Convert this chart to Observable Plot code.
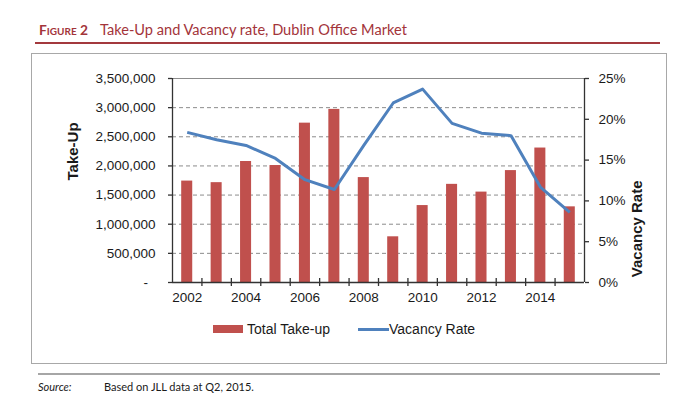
<!DOCTYPE html>
<html>
<head>
<meta charset="utf-8">
<script src="https://cdn.jsdelivr.net/npm/d3@7"></script>
<script src="https://cdn.jsdelivr.net/npm/@observablehq/plot@0.6"></script>
<style>
  body { margin: 0; background: #fff; }
  #page { position: relative; width: 700px; height: 411px; overflow: hidden; }
  .abs { position: absolute; }
  #fig { left: 39px; top: 21px; font-family: Lato, sans-serif; font-size: 14.6px; line-height: 17px; color: #a3343a; white-space: nowrap; }
  #fig .num { font-variant: small-caps; font-weight: 700; font-size: 13.8px; margin-right: 12px; }
  #redline { left: 35px; top: 42px; width: 625px; height: 2px; background: #a3393d; }
  #box { left: 31px; top: 53px; width: 636px; height: 311px; box-sizing: border-box; border: 1.5px solid #a8a8a8; }
  #chart { left: 0; top: 53px; }
  #legend { left: 213px; top: 320px; height: 18px; font-family: "Liberation Sans", Arial, sans-serif; font-size: 14px; color: #1a1a1a; display: flex; align-items: center; white-space: nowrap; }
  .sw-bar { display: inline-block; width: 30px; height: 8px; background: #c0504d; margin-right: 4px; }
  .sw-line { display: inline-block; width: 31px; height: 3px; background: #4f81bd; margin-left: 28px; margin-right: 0px; }
  #grayline { left: 38px; top: 373px; width: 622px; height: 2px; background: #a6a6a6; }
  #source { left: 38px; top: 380px; font-family: Lato, sans-serif; font-size: 11px; line-height: 14px; color: #1a1a1a; white-space: nowrap; }
  #source i { display: inline-block; width: 66px; }
</style>
</head>
<body>
<div id="page">
  <div id="fig" class="abs"><span class="num">Figure 2</span>Take-Up and Vacancy rate, Dublin Office Market</div>
  <div id="redline" class="abs"></div>
  <div id="box" class="abs"></div>
  <div id="chart" class="abs"></div>
  <div id="legend" class="abs"><span class="sw-bar"></span><span>Total Take-up</span><span class="sw-line"></span><span>Vacancy Rate</span></div>
  <div id="grayline" class="abs"></div>
  <div id="source" class="abs"><i>Source:</i>Based on JLL data at Q2, 2015.</div>
</div>
<script>
// ---- data ----
const years = [2002, 2003, 2004, 2005, 2006, 2007, 2008, 2009, 2010, 2011, 2012, 2013, 2014, 2015];
const takeUp = [1740000, 1713000, 2076000, 2007000, 2734000, 2970000, 1800000, 784000, 1320000, 1684000, 1551000, 1920000, 2307000, 1298000];
const vacancy = [18.4, 17.5, 16.8, 15.2, 12.6, 11.4, 16.8, 22.0, 23.7, 19.5, 18.3, 18.0, 11.7, 8.6];
const leftTicks = [0, 500000, 1000000, 1500000, 2000000, 2500000, 3000000, 3500000];
const rightTicks = [0, 5, 10, 15, 20, 25];
const yearLabels = [2002, 2004, 2006, 2008, 2010, 2012, 2014];

const yMax = 3500000;
const rMax = 25;
const k = yMax / rMax; // maps vacancy % onto the take-up scale

const data = years.map((year, i) => ({year, takeUp: takeUp[i], vacancy: vacancy[i]}));
const boundaries = years.slice(1).map(y => y - 0.5);
const x0 = years[0] - 0.5, x1 = years[years.length - 1] + 0.5;
const fmt = d3.format(",");

const chart = Plot.plot({
  width: 700,
  height: 262,
  marginTop: 25,
  marginBottom: 33,
  marginLeft: 172,
  marginRight: 116,
  style: {fontFamily: "'Liberation Sans', Arial, sans-serif", fontSize: "13.5px", color: "#1a1a1a", background: "transparent", overflow: "visible"},
  x: {type: "linear", domain: [x0, x1]},
  y: {domain: [0, yMax], nice: false},
  marks: [
    Plot.ruleY(leftTicks.filter(d => d > 0 && d < yMax), {stroke: "#8c8c8c", strokeDasharray: "4,3", strokeWidth: 1}),
    Plot.ruleY([yMax], {stroke: "#8c8c8c", strokeWidth: 1}),
    Plot.rectY(data, {x1: d => d.year - 0.5, x2: d => d.year + 0.5, y: "takeUp", fill: "#c0504d", insetLeft: 9.2, insetRight: 9.2}),
    Plot.line(data, {x: "year", y: d => d.vacancy * k, stroke: "#4f81bd", strokeWidth: 3, strokeLinejoin: "round", strokeLinecap: "butt"}),
    Plot.ruleY([0], {stroke: "#333", strokeWidth: 1.3}),
    Plot.ruleX([x0], {stroke: "#333", strokeWidth: 1.3}),
    Plot.ruleX([x1], {stroke: "#333", strokeWidth: 1.3}),
    Plot.ruleX(boundaries, {y1: 0, y2: 0, insetTop: 4, insetBottom: 4, stroke: "#333", strokeWidth: 1.3}),
    Plot.axisY(leftTicks, {anchor: "left", tickSize: 4, tickPadding: 13, strokeWidth: 1.3, stroke: "#333",
      tickFormat: d => d === 0 ? "-\u00a0\u00a0" : fmt(d), label: null}),
    Plot.axisY(rightTicks.map(d => d * k), {anchor: "right", tickSize: 4, tickPadding: 10, strokeWidth: 1.3, stroke: "#333",
      tickFormat: d => Math.round(d / k) + "%", label: null}),
    Plot.axisX(yearLabels, {anchor: "bottom", tickSize: 0, tickPadding: 10, tickFormat: d => String(d), label: null}),
    Plot.text(["Take-Up"], {frameAnchor: "left", rotate: -90, dx: -99, fontWeight: "bold", fontSize: 15, fill: "#1a1a1a"}),
    Plot.text(["Vacancy Rate"], {frameAnchor: "right", rotate: -90, dx: 53, fontWeight: "bold", fontSize: 15, fill: "#1a1a1a"})
  ]
});
document.getElementById("chart").appendChild(chart);
</script>
</body>
</html>
